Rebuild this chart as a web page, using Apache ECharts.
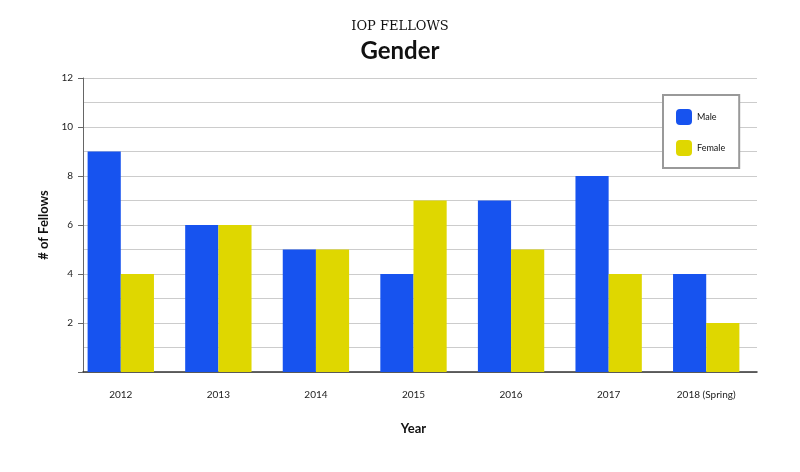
<!DOCTYPE html>
<html><head><meta charset="utf-8">
<script src="https://cdn.jsdelivr.net/npm/echarts@6/dist/echarts.min.js"></script>
<style>html,body{margin:0;padding:0;background:#fff}#c{width:800px;height:472px}</style>
</head><body><div id="c"></div>
<script>
var categories = ['2012','2013','2014','2015','2016','2017','2018 (Spring)'];
var male = [9,6,5,4,7,8,4];
var female = [4,6,5,7,5,4,2];
var yTicks = [0,12,2];

var chart = echarts.init(document.getElementById('c'), null, {renderer:'canvas'});
var font = 'Lato, "Open Sans", sans-serif';
chart.setOption({
  animation:false,
  backgroundColor:'#fff',
  title:[
    {text:'IOP FELLOWS', left:'center', top:15, textStyle:{fontFamily:'"DejaVu Serif", serif', fontSize:13, fontWeight:'normal', color:'#111'}},
    {text:'Gender', left:'center', top:34, textStyle:{fontFamily:font, fontSize:24, fontWeight:'bold', color:'#111'}}
  ],
  legend:{
    orient:'vertical', left:663, top:95, padding:[14,14,12,13],
    itemWidth:16, itemHeight:16, itemGap:15,
    borderColor:'#999', borderWidth:2, backgroundColor:'#fff',
    textStyle:{fontFamily:font, fontSize:9, color:'#111', width:30},
    data:['Male','Female']
  },
  grid:[
    {left:83, right:43, top:78, bottom:100},
    {left:72, right:45, top:78, bottom:100}
  ],
  xAxis:[
    {type:'category', gridIndex:0, data:categories, axisLabel:{show:false}, axisTick:{show:false},
     axisLine:{lineStyle:{color:'#333', width:1.5}}},
    {type:'category', gridIndex:1, data:categories, axisLine:{show:false}, axisTick:{show:false},
     axisLabel:{margin:18, fontFamily:font, fontSize:10, color:'#222'},
     name:'Year', nameLocation:'middle', nameGap:50,
     nameTextStyle:{fontFamily:font, fontSize:13, fontWeight:'bold', color:'#111'}}
  ],
  yAxis:[
    {type:'value', gridIndex:0, min:yTicks[0], max:yTicks[1], interval:yTicks[2],
     axisLine:{show:true, lineStyle:{color:'#666', width:1}},
     axisTick:{show:true, length:5, lineStyle:{color:'#666'}},
     axisLabel:{fontFamily:font, fontSize:10, color:'#222', margin:10, formatter:function(v){return v===0?'':String(v);}},
     splitLine:{lineStyle:{color:'#ccc', width:1}},
     minorTick:{show:false, splitNumber:2},
     minorSplitLine:{show:true, lineStyle:{color:'#ccc', width:1}},
     name:'# of Fellows', nameLocation:'middle', nameGap:30,
     nameTextStyle:{fontFamily:font, fontSize:13, fontWeight:'bold', color:'#111'}},
    {type:'value', gridIndex:1, min:yTicks[0], max:yTicks[1], show:false, splitLine:{show:false}}
  ],
  series:[
    {name:'Male', type:'bar', xAxisIndex:1, yAxisIndex:1, data:male, barWidth:'34%', barGap:'0%',
     itemStyle:{color:'#1753ef'}},
    {name:'Female', type:'bar', xAxisIndex:1, yAxisIndex:1, data:female, barWidth:'34%', barGap:'0%',
     itemStyle:{color:'#dfd700'}}
  ]
});
</script></body></html>
